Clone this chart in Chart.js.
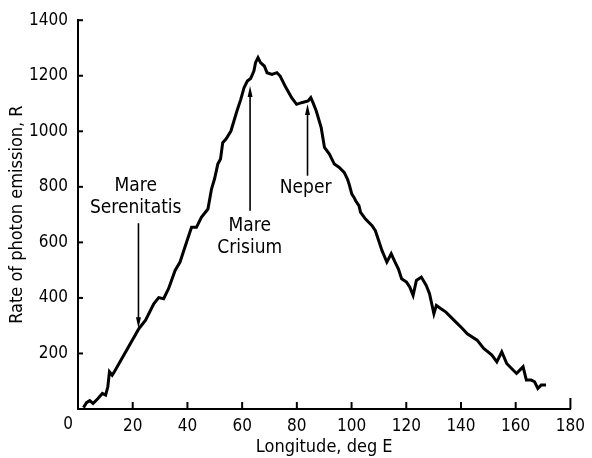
<!DOCTYPE html>
<html>
<head>
<meta charset="utf-8">
<script src="https://cdn.jsdelivr.net/npm/chart.js@4"></script>
<style>
  html, body { margin: 0; padding: 0; background: #fff; }
  #wrap { width: 592px; height: 458px; }
</style>
</head>
<body>
<div id="wrap"><canvas id="chart"></canvas></div>
<script>
// values
const longitude = [2, 3.1, 4.3, 5.5, 7.3, 8.9, 10.1, 10.9, 11.5, 12.5, 13.3, 22.3, 24.7, 27.7, 29.5, 31.3,
  33.1, 35.5, 37.3, 39.1, 41.5, 43.3, 45.1, 47.5, 48.8, 49.9, 51.1, 52.1, 52.9, 54.1, 55.9, 58.1,
  59.5, 60.7, 61.9, 63.1, 64.3, 64.9, 65.8, 66.7, 68.1, 69.1, 70.9, 72.7, 73.9, 75.7, 78.1, 79.9,
  81.7, 84.1, 85.1, 85.9, 87.1, 88.9, 90.1, 91.9, 93.7, 95.5, 97.3, 98.5, 99.1, 100.1, 100.9, 101.5,
  102.7, 103.3, 105.1, 107.5, 108.7, 109.9, 111.1, 112.9, 114.5, 115.9, 117.1, 118.3, 120.1, 121.3,
  122.5, 123.7, 125.5, 127.3, 128.5, 130.1, 131, 132.7, 134.5, 137.5, 140.5, 142.3, 145.9, 148.3,
  151.3, 153.1, 154.9, 156.7, 158.5, 160.3, 161.5, 162.7, 163.9, 165.7, 166.9, 168.1, 169.3, 171.1];
const emission = [5, 23, 30, 20, 38, 56, 50, 80, 134, 122, 134, 290, 320, 379, 401, 397,
  433, 499, 529, 583, 654, 654, 690, 720, 792, 828, 882, 900, 959, 972, 1001, 1073,
  1115, 1157, 1181, 1190, 1217, 1247, 1265, 1247, 1235, 1211, 1205, 1211, 1199, 1163, 1121, 1097,
  1103, 1109, 1121, 1103, 1073, 1013, 942, 918, 882, 870, 852, 828, 810, 774, 762, 750,
  732, 708, 684, 660, 642, 607, 571, 529, 559, 529, 505, 469, 457, 439,
  409, 463, 475, 445, 415, 343, 373, 361, 349, 319, 290, 271, 248, 218,
  194, 170, 206, 164, 146, 128, 140, 152, 104, 104, 98, 74, 86, 86];

const xTicks = [0, 20, 40, 60, 80, 100, 120, 140, 160, 180];
const yTicks = [200, 400, 600, 800, 1000, 1200, 1400];

// feature markers
const markerNames = [["Mare", "Serenitatis"], ["Mare", "Crisium"], ["Neper"]];
const labelLon = [21.1, 62.8, 83.2];
const labelEmission = [804, 660, 797];
const arrowLon = [22.1, 62.9, 83.9];
const arrowFrom = [669, 714, 840];
const arrowTo = [291, 1163, 1098];

const FONT = "'DejaVu Sans Condensed', 'DejaVu Sans', sans-serif";

const points = longitude.map((x, i) => ({ x: x, y: emission[i] }));

const inwardTicks = {
  id: "inwardTicks",
  afterDraw(chart) {
    const ctx = chart.ctx;
    const xs = chart.scales.x;
    const ys = chart.scales.y;
    ctx.save();
    ctx.strokeStyle = "#000";
    ctx.lineWidth = 2;
    xTicks.forEach(v => {
      const px = xs.getPixelForValue(v);
      ctx.beginPath();
      ctx.moveTo(px, ys.bottom);
      ctx.lineTo(px, ys.bottom - (v === 180 ? 11 : 7));
      ctx.stroke();
    });
    yTicks.forEach(v => {
      const py = ys.getPixelForValue(v);
      ctx.beginPath();
      ctx.moveTo(xs.left - 1, py);
      ctx.lineTo(xs.left + 5, py);
      ctx.stroke();
    });

    // arrows
    ctx.lineWidth = 1.6;
    ctx.fillStyle = "#000";
    arrowLon.forEach((lon, i) => {
      const px = xs.getPixelForValue(lon);
      const y0 = ys.getPixelForValue(arrowFrom[i]);
      const y1 = ys.getPixelForValue(arrowTo[i]);
      const dir = y1 > y0 ? 1 : -1;
      ctx.beginPath();
      ctx.moveTo(px, y0);
      ctx.lineTo(px, y1 - dir * 8);
      ctx.stroke();
      ctx.beginPath();
      ctx.moveTo(px, y1);
      ctx.lineTo(px - 2.5, y1 - dir * 11);
      ctx.lineTo(px + 2.5, y1 - dir * 11);
      ctx.closePath();
      ctx.fill();
    });

    // the origin label sits left of the axis corner
    ctx.font = "17px " + FONT;
    ctx.textAlign = "center";
    ctx.textBaseline = "middle";
    ctx.fillText("0", xs.left - 10, ys.bottom + 16);

    // labels
    ctx.font = "19px " + FONT;
    markerNames.forEach((lines, i) => {
      const px = xs.getPixelForValue(labelLon[i]);
      const py = ys.getPixelForValue(labelEmission[i]);
      lines.forEach((t, j) => ctx.fillText(t, px, py + j * 22));
    });
    ctx.restore();
  }
};

new Chart(document.getElementById("chart"), {
  type: "line",
  data: {
    datasets: [{
      data: points,
      borderColor: "#000",
      borderWidth: 3,
      pointRadius: 0,
      tension: 0,
      fill: false
    }]
  },
  options: {
    responsive: true,
    maintainAspectRatio: false,
    animation: false,
    layout: { padding: { top: 20, right: 14, left: 0, bottom: 0 } },
    plugins: { legend: { display: false }, tooltip: { enabled: false } },
    scales: {
      x: {
        type: "linear",
        min: 0,
        max: 180,
        afterBuildTicks: s => { s.ticks = xTicks.map(v => ({ value: v })); },
        afterFit: s => { s.height = 49; },
        grid: { display: false, drawTicks: false },
        border: { display: true, color: "#000", width: 2 },
        ticks: {
          color: "#000", padding: 7, maxRotation: 0,
          font: { family: FONT, size: 17 },
          callback: v => (v === 0 ? "" : String(v))
        },
        title: {
          display: true,
          text: "Longitude, deg E",
          color: "#000",
          padding: { top: 0, bottom: 0 },
          font: { family: FONT, size: 18, lineHeight: 1.2 }
        }
      },
      y: {
        type: "linear",
        min: 0,
        max: 1400,
        afterBuildTicks: s => { s.ticks = yTicks.map(v => ({ value: v })); },
        afterFit: s => { s.width = 78; },
        grid: { display: false, drawTicks: false },
        border: { display: true, color: "#000", width: 2 },
        ticks: {
          color: "#000", padding: 10,
          font: { family: FONT, size: 17 },
          callback: v => String(v)
        },
        title: {
          display: true,
          text: "Rate of photon emission, R",
          color: "#000",
          padding: { top: 7, bottom: 0 },
          font: { family: FONT, size: 18, lineHeight: 1.2 }
        }
      }
    }
  },
  plugins: [inwardTicks]
});
</script>
</body>
</html>
